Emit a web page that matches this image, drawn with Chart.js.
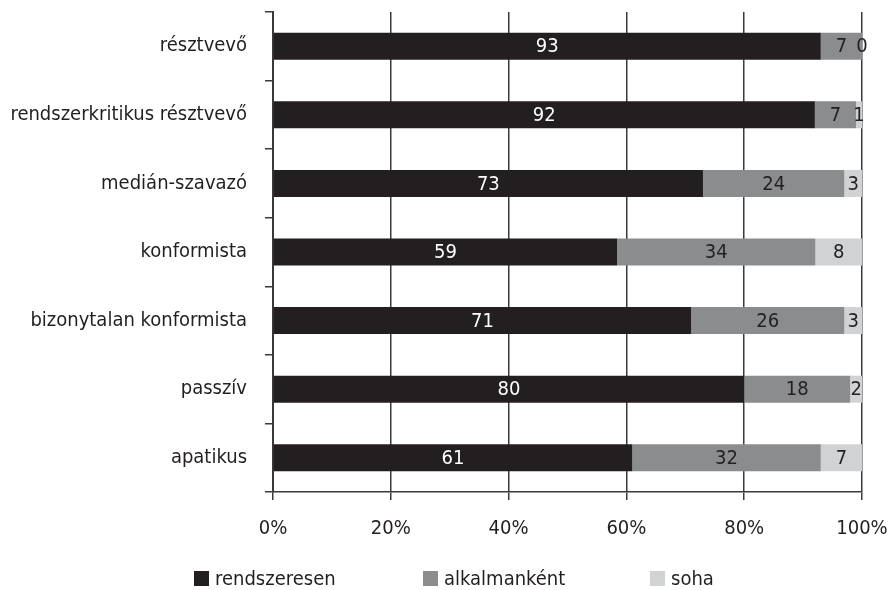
<!DOCTYPE html>
<html>
<head>
<meta charset="utf-8">
<script src="https://cdn.jsdelivr.net/npm/chart.js@4/dist/chart.umd.min.js"></script>
<style>
  html, body { margin: 0; padding: 0; background: #fff; }
  #wrap { position: relative; width: 888px; height: 590px; }
  #legend { position: absolute; left: 0; top: 566px; width: 888px; height: 24px;
    font-family: "Liberation Sans Narrow", "Arial Narrow", "DejaVu Sans Condensed", sans-serif;
    font-size: 20px; color: #231f20; line-height: 24px; }
  .item { position: absolute; top: 0; display: flex; align-items: center; height: 24px; }
  .box { width: 15px; height: 15px; margin-right: 6px; }
</style>
</head>
<body>
<div id="wrap">
  <canvas id="c" width="888" height="590"></canvas>
  <div id="legend"></div>
</div>
<script>
const categories = ["résztvevő", "rendszerkritikus résztvevő", "medián-szavazó", "konformista", "bizonytalan konformista", "passzív", "apatikus"];
const seriesNames = ["rendszeresen", "alkalmanként", "soha"];
const rendszeresen = [93, 92, 73, 59, 71, 80, 61];
const alkalmankent = [7, 7, 24, 34, 26, 18, 32];
const soha = [0, 1, 3, 8, 3, 2, 7];
const xTicks = [0, 20, 40, 60, 80, 100];

const colors = ["#231f20", "#8b8c8e", "#d1d2d4"];
const labelColors = ["#ffffff", "#231f20", "#231f20"];
const FONT = "'Liberation Sans Narrow', 'Arial Narrow', 'DejaVu Sans Condensed', sans-serif";

const raw = [rendszeresen, alkalmankent, soha];
const totals = categories.map((_, i) => raw.reduce((s, arr) => s + arr[i], 0));
const pct = raw.map(arr => arr.map((v, i) => v / totals[i] * 100));

const valueLabels = {
  id: 'valueLabels',
  afterDatasetsDraw(chart) {
    const ctx = chart.ctx;
    ctx.save();
    ctx.font = "20px " + FONT;
    ctx.textAlign = 'center';
    ctx.textBaseline = 'middle';
    chart.data.datasets.forEach((ds, di) => {
      const meta = chart.getDatasetMeta(di);
      meta.data.forEach((el, i) => {
        const cx = (el.x + el.base) / 2;
        ctx.fillStyle = labelColors[di];
        ctx.fillText(String(raw[di][i]), cx, el.y + 1);
      });
    });
    ctx.restore();
  }
};

const chart = new Chart(document.getElementById('c'), {
  type: 'bar',
  data: {
    labels: categories,
    datasets: seriesNames.map((n, di) => ({
      label: n,
      data: pct[di],
      backgroundColor: colors[di],
      borderWidth: 0,
      categoryPercentage: 1,
      barPercentage: 0.394
    }))
  },
  options: {
    indexAxis: 'y',
    responsive: false,
    animation: false,
    layout: { padding: { left: 0, right: 26, top: 12, bottom: 0 } },
    plugins: { legend: { display: false }, tooltip: { enabled: false } },
    scales: {
      x: {
        stacked: true, min: 0, max: 100,
        afterBuildTicks(scale) { scale.ticks = xTicks.map(v => ({ value: v })); },
        ticks: { callback: v => v + '%', color: '#231f20', font: { family: FONT, size: 20 }, padding: 17, maxRotation: 0 },
        grid: { color: '#3a3a3a', lineWidth: 1.5, tickLength: 8 },
        border: { color: '#3a3a3a', width: 1.5 },
        afterFit(scale) { scale.height = 98; scale.paddingLeft = 0; scale.paddingRight = 0; }
      },
      y: {
        stacked: true,
        ticks: { color: '#231f20', font: { family: FONT, size: 20 }, padding: 18 },
        grid: { offset: true, drawOnChartArea: false, color: '#3a3a3a', lineWidth: 1.5, tickLength: 8 },
        border: { color: '#3a3a3a', width: 2 },
        afterFit(scale) { scale.width = 273; scale.paddingTop = 0; scale.paddingBottom = 0; }
      }
    }
  },
  plugins: [valueLabels]
});

const legend = document.getElementById('legend');
const lefts = [194, 423, 650];
seriesNames.forEach((n, i) => {
  const it = document.createElement('div');
  it.className = 'item';
  it.style.left = lefts[i] + 'px';
  const b = document.createElement('div');
  b.className = 'box';
  b.style.background = colors[i];
  const t = document.createElement('span');
  t.textContent = n;
  it.appendChild(b); it.appendChild(t);
  legend.appendChild(it);
});
</script>
</body>
</html>
